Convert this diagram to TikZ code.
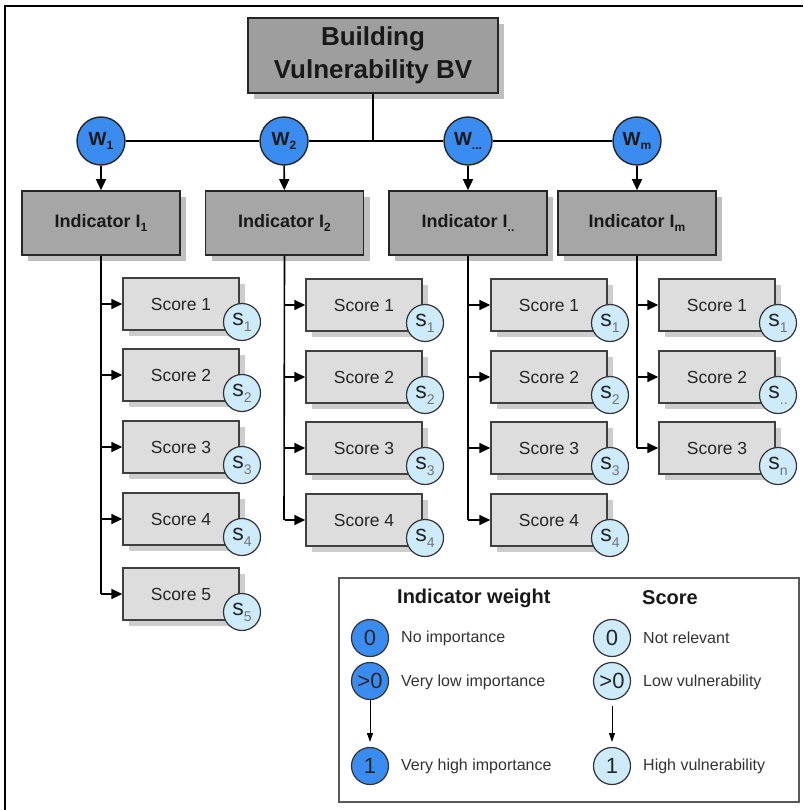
\documentclass[tikz,border=0pt]{standalone}
\usepackage{fontspec}
\setmainfont{Liberation Sans}
\usetikzlibrary{arrows.meta,shadows}
\definecolor{wblue}{RGB}{58,140,240}
\definecolor{sblue}{RGB}{205,235,250}
\definecolor{boxgray}{RGB}{166,166,166}
\definecolor{titlegray}{RGB}{158,158,158}
\definecolor{scoregray}{RGB}{221,221,221}
\definecolor{shadowgray}{RGB}{192,192,192}
\definecolor{lightshadow}{RGB}{205,205,205}
\newcommand\wsub[1]{\raisebox{-4pt}{\fontsize{12}{12}\selectfont #1}}
\newcommand\ssub[1]{\raisebox{-6pt}{\fontsize{14}{14}\selectfont\color{black!55}#1}}
\tikzset{
  titlebox/.style={draw=black!85, line width=1.6pt, fill=titlegray, minimum width=250pt, minimum height=75pt, inner sep=0pt, align=center,
    font=\fontsize{26}{33}\selectfont\bfseries, text=black!90,
    drop shadow={shadow xshift=6pt, shadow yshift=-6pt, fill=shadowgray, opacity=1}},
  indbox/.style={draw=black!85, line width=1.6pt, fill=boxgray, minimum width=158pt, minimum height=64pt, inner sep=0pt,
    font=\fontsize{18}{20}\selectfont\bfseries, text=black!90,
    drop shadow={shadow xshift=6pt, shadow yshift=-6pt, fill=shadowgray, opacity=1}},
  scorebox/.style={draw=black!75, line width=1.4pt, fill=scoregray, minimum width=116pt, minimum height=52pt, inner sep=0pt,
    font=\fontsize{17.5}{20}\selectfont, text=black!85,
    drop shadow={shadow xshift=6pt, shadow yshift=-6pt, fill=lightshadow, opacity=1}},
  wcirc/.style={circle, draw=black!85, line width=1.4pt, fill=wblue, minimum size=48pt, inner sep=0pt,
    font=\fontsize{19}{20}\selectfont\bfseries, text=black!90},
  scirc/.style={circle, draw=black!80, line width=1.2pt, fill=sblue, minimum size=37pt, inner sep=0pt,
    font=\fontsize{23}{24}\selectfont, text=black!85},
  lwcirc/.style={circle, draw=black!80, line width=1.2pt, fill=wblue, minimum size=37pt, inner sep=0pt,
    font=\fontsize{22}{22}\selectfont, text=black!85},
  lscirc/.style={lwcirc, fill=sblue},
  conn/.style={line width=1.6pt, draw=black},
  arr/.style={conn, -{Triangle[length=11pt,width=10pt]}},
  thinarr/.style={line width=1pt, draw=black, -{Triangle[length=9pt,width=6pt]}},
  legtext/.style={anchor=west, inner sep=0pt, font=\fontsize{16}{18}\selectfont, text=black!80},
  leghead/.style={anchor=west, inner sep=0pt, font=\fontsize{20}{22}\selectfont\bfseries, text=black!90},
}
\begin{document}
\begin{tikzpicture}[x=1pt,y=-1pt]
\useasboundingbox (0,0) rectangle (803,810);
\fill[white] (0,0) rectangle (803,810);
% outer frame (top and left)
\draw[line width=2.4pt] (5,810) -- (5,6) -- (803,6);

% title
\node[titlebox] (bv) at (373,55.5) {Building\\Vulnerability BV};

% weights
\node[wcirc] (w1) at (101,141) {W\wsub{1}};
\node[wcirc] (w2) at (284,141) {W\wsub{2}};
\node[wcirc] (w3) at (468,141) {W\wsub{...}};
\node[wcirc] (w4) at (637,141) {W\wsub{m}};
\draw[conn] (w1) -- (w2);
\draw[conn] (w2) -- (w3);
\draw[conn] (w3) -- (w4);
\draw[conn] (bv.south) -- (bv.south |- w2.center);

% indicators
\node[indbox] (i1) at (101,223) {Indicator I\wsub{1}};
\node[indbox] (i2) at (284.5,223) {Indicator I\wsub{2}};
\node[indbox] (i3) at (468,223) {Indicator I\wsub{..}};
\node[indbox] (i4) at (637,223) {Indicator I\wsub{m}};
\draw[arr] (w1) -- (i1);
\draw[arr] (w2) -- (i2);
\draw[arr] (w3) -- (i3);
\draw[arr] (w4) -- (i4);

% column 1
\coordinate (e1) at (101,594);
\draw[conn] (i1.south) -- (e1);
\foreach \y/\s [count=\i] in {304/1,375/2,447/3,519/4,594/5} {
  \node[scorebox] (a\i) at (181,\y) {Score \i};
  \draw[arr] (i1.south |- a\i.west) -- (a\i.west);
  \node[scirc] (as\i) at (242,\y+18) {s\ssub{\s}};
}
% column 2
\coordinate (e2) at (284,520);
\draw[conn] (i2.south) -- (e2);
\foreach \y/\s [count=\i] in {305/1,377/2,448/3,520/4} {
  \node[scorebox] (b\i) at (364,\y) {Score \i};
  \draw[arr] (i2.south |- b\i.west) -- (b\i.west);
  \node[scirc] (bs\i) at (425,\y+18) {s\ssub{\s}};
}
% column 3
\coordinate (e3) at (468,520);
\draw[conn] (i3.south) -- (e3);
\foreach \y/\s [count=\i] in {305/1,377/2,448/3,520/4} {
  \node[scorebox] (c\i) at (549,\y) {Score \i};
  \draw[arr] (i3.south |- c\i.west) -- (c\i.west);
  \node[scirc] (cs\i) at (610,\y+18) {s\ssub{\s}};
}
% column 4
\coordinate (e4) at (637,448);
\draw[conn] (i4.south) -- (e4);
\foreach \y/\s [count=\i] in {305/1,377/{..},448/n} {
  \node[scorebox] (d\i) at (717,\y) {Score \i};
  \draw[arr] (i4.south |- d\i.west) -- (d\i.west);
  \node[scirc] (ds\i) at (778,\y+18) {s\ssub{\s}};
}

% legend
\draw[line width=1.6pt, draw=black!65] (339,578) rectangle (799,802);
\node[leghead] (lh1) at (397,598) {Indicator weight};
\node[leghead] (lh2) at (642,598) {Score};
\node[lwcirc] (lw0) at (370,638) {0};
\node[lwcirc] (lw1) at (370,681) {>0};
\node[lwcirc] (lw2) at (370,766) {1};
\node[lscirc] (ls0) at (612,638) {0};
\node[lscirc] (ls1) at (612,681) {>0};
\node[lscirc] (ls2) at (612,766) {1};
\coordinate (lwa) at (370,700);
\coordinate (lwb) at (370,742);
\coordinate (lsa) at (612,706);
\coordinate (lsb) at (612,742);
\draw[thinarr] (lwa) -- (lwb);
\draw[thinarr] (lsa) -- (lsb);
\node[legtext] at (401,638) {No importance};
\node[legtext] at (401,682) {Very low importance};
\node[legtext] at (401,766) {Very high importance};
\node[legtext] at (643,638) {Not relevant};
\node[legtext] at (643,682) {Low vulnerability};
\node[legtext] at (643,766) {High vulnerability};
\end{tikzpicture}
\end{document}
